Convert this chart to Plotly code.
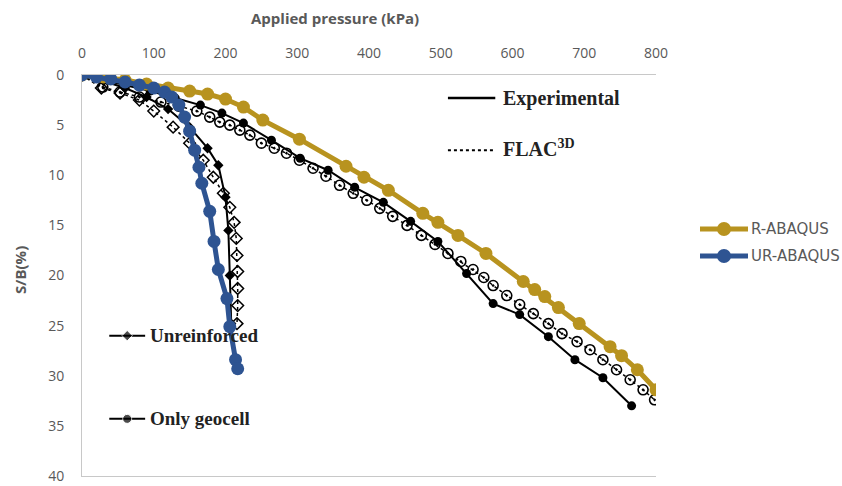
import plotly.graph_objects as go

# Applied pressure (kPa) vs. settlement ratio S/B (%)
r_abaqus_p = [0, 30, 60, 90, 120, 150, 175, 200, 225, 252, 303, 368, 393, 427, 475, 496, 524, 563,
              615, 631, 645, 664, 693, 736, 752, 774, 800]
r_abaqus_s = [0, 0.2, 0.5, 0.9, 1.3, 1.6, 1.9, 2.4, 3.2, 4.5, 6.4, 9.1, 10.2, 11.5, 13.8, 14.7, 16.0, 17.8,
              20.6, 21.4, 22.1, 23.2, 24.8, 27.1, 28.0, 29.4, 31.4]

ur_abaqus_p = [0, 20, 40, 60, 80, 100, 115, 125, 135, 143, 150, 157, 163, 167, 178, 184, 190, 202, 206, 214, 217]
ur_abaqus_s = [0, 0.2, 0.4, 0.7, 1.0, 1.3, 1.7, 2.2, 3.0, 4.2, 5.6, 7.5, 9.2, 10.8, 13.6, 16.6, 19.4, 22.3,
               25.1, 28.4, 29.3]

geocell_exp_p = [0, 30, 60, 95, 130, 165, 195, 225, 264, 304, 343, 380, 420, 458, 496, 536, 573, 610, 650,
                 687, 726, 766]
geocell_exp_s = [0, 0.5, 1.0, 1.6, 2.3, 3.0, 3.8, 4.8, 6.5, 8.3, 9.5, 11.2, 12.7, 14.6, 16.6, 19.8, 22.8, 23.9,
                 26.1, 28.4, 30.2, 33.0]

geocell_flac_p = [0, 29, 53, 80, 110, 135, 160, 178, 192, 206, 220, 234, 250, 268, 285, 303, 322, 340, 359,
                  378, 397, 415, 433, 453, 473, 492, 510, 528, 545, 560, 573, 592, 610, 629, 650, 669, 690,
                  708, 726, 745, 764, 782, 798]
geocell_flac_s = [0, 1.2, 1.7, 2.2, 2.7, 3.1, 3.6, 4.2, 4.7, 5.0, 5.5, 6.0, 6.8, 7.3, 7.8, 8.5, 9.3, 10.1, 11.0,
                  11.8, 12.5, 13.3, 14.1, 15.0, 16.0, 16.9, 17.8, 18.6, 19.4, 20.2, 21.0, 22.0, 22.9, 23.8,
                  24.8, 25.8, 26.6, 27.4, 28.4, 29.4, 30.4, 31.4, 32.4]

unreinf_exp_p = [0, 30, 60, 90, 120, 150, 175, 190, 200, 204, 206, 208]
unreinf_exp_s = [0, 0.6, 1.3, 2.2, 3.4, 5.2, 7.3, 9.0, 12.2, 15.5, 20.0, 24.8]

unreinf_flac_p = [0, 27, 53, 80, 100, 127, 150, 169, 183, 197, 206, 212, 215, 216, 217, 217, 217, 216]
unreinf_flac_s = [0, 1.3, 1.8, 2.5, 3.6, 5.2, 6.8, 8.5, 10.2, 11.8, 13.2, 14.7, 16.3, 18.0, 19.6, 21.3, 23.0, 24.8]

x_ticks = [0, 100, 200, 300, 400, 500, 600, 700, 800]
y_ticks = [0, 5, 10, 15, 20, 25, 30, 35, 40]

abaqus_names = ["R-ABAQUS", "UR-ABAQUS"]
case_names = ["Unreinforced", "Only geocell"]

GOLD = "#B8931F"
BLUE = "#2E5492"
GREY = "#595959"
INK = "#222222"
SERIF = "Liberation Serif, Times New Roman, serif"

# plot area in pixels: x 82..656, y 75..476
PX_L, PX_R, PX_T, PX_B = 82, 656, 75, 476


def paper_x(px):
    return (px - PX_L) / (PX_R - PX_L)


def paper_y(py):
    return (PX_B - py) / (PX_B - PX_T)


fig = go.Figure()

fig.add_trace(go.Scatter(
    x=unreinf_flac_p, y=unreinf_flac_s, mode="lines+markers", showlegend=False,
    line=dict(color="black", width=1.5, dash="dot"),
    marker=dict(symbol="diamond-open", size=9, color="black", line=dict(width=1.5))))
fig.add_trace(go.Scatter(
    x=unreinf_exp_p, y=unreinf_exp_s, mode="lines+markers", showlegend=False,
    line=dict(color="black", width=2),
    marker=dict(symbol="diamond", size=8, color="black")))
fig.add_trace(go.Scatter(
    x=geocell_flac_p, y=geocell_flac_s, mode="lines+markers", showlegend=False,
    line=dict(color="black", width=1.5, dash="dot"),
    marker=dict(symbol="circle-open-dot", size=10, color="black", line=dict(width=1.6))))
fig.add_trace(go.Scatter(
    x=geocell_exp_p, y=geocell_exp_s, mode="lines+markers", showlegend=False,
    line=dict(color="black", width=2),
    marker=dict(symbol="circle", size=9, color="black")))

# in-plot key for the two test cases
for name, symbol, size, sb in zip(case_names, ["diamond", "circle"], [8, 9], [26.0, 34.3]):
    fig.add_trace(go.Scatter(
        x=[38, 63, 88], y=[sb, sb, sb], mode="lines+markers", showlegend=False,
        line=dict(color="black", width=2),
        marker=dict(symbol=symbol, size=[0, size, 0], color="black")))
    fig.add_annotation(x=92, y=sb, text="<b>%s</b>" % name, showarrow=False, xanchor="left",
                       yanchor="middle", font=dict(family=SERIF, size=19, color=INK))

fig.add_trace(go.Scatter(
    x=r_abaqus_p, y=r_abaqus_s, mode="lines+markers", name=abaqus_names[0], showlegend=False,
    line=dict(color=GOLD, width=5), marker=dict(symbol="circle", size=13, color=GOLD)))
fig.add_trace(go.Scatter(
    x=ur_abaqus_p, y=ur_abaqus_s, mode="lines+markers", name=abaqus_names[1], showlegend=False,
    line=dict(color=BLUE, width=5), marker=dict(symbol="circle", size=13, color=BLUE)))

# key for the experimental / numerical line styles
fig.add_shape(type="line", x0=510, x1=576, y0=2.3, y1=2.3, line=dict(color="black", width=2.5))
fig.add_shape(type="line", x0=510, x1=576, y0=7.5, y1=7.5, line=dict(color="black", width=2, dash="dot"))
fig.add_annotation(x=584, y=2.3, text="<b>Experimental</b>", showarrow=False, xanchor="left",
                   font=dict(family=SERIF, size=20, color=INK))
fig.add_annotation(x=584, y=7.3, text="<b>FLAC<sup>3D</sup></b>", showarrow=False, xanchor="left",
                   font=dict(family=SERIF, size=20, color=INK))

# legend for the ABAQUS curves, right of the plot area
for name, color, py in zip(abaqus_names, [GOLD, BLUE], [229, 256]):
    fig.add_shape(type="line", xref="paper", yref="paper",
                  x0=paper_x(700), x1=paper_x(748), y0=paper_y(py), y1=paper_y(py),
                  line=dict(color=color, width=5))
    fig.add_shape(type="circle", xref="paper", yref="paper",
                  x0=paper_x(717), x1=paper_x(731), y0=paper_y(py + 7), y1=paper_y(py - 7),
                  fillcolor=color, line=dict(color=color, width=0))
    fig.add_annotation(x=paper_x(749), y=paper_y(py), xref="paper", yref="paper",
                       xanchor="left", yanchor="middle", text=name, showarrow=False,
                       font=dict(family="DejaVu Sans", size=15, color=GREY))

fig.add_annotation(x=paper_x(335), y=paper_y(18), xref="paper", yref="paper",
                   xanchor="center", yanchor="middle", text="<b>Applied pressure (kPa)</b>",
                   showarrow=False, font=dict(family="Open Sans", size=15, color=GREY))
fig.add_annotation(x=paper_x(20), y=paper_y(270), xref="paper", yref="paper",
                   xanchor="center", yanchor="middle", textangle=-90, text="<b>S/B(%)</b>",
                   showarrow=False, font=dict(family="Open Sans", size=15, color=GREY))

fig.update_layout(
    width=842, height=486,
    margin=dict(l=PX_L, r=842 - PX_R, t=PX_T, b=486 - PX_B),
    paper_bgcolor="white", plot_bgcolor="white",
    font=dict(family="Open Sans", size=14, color=GREY),
    showlegend=False,
    xaxis=dict(range=[0, 800], side="top", tickvals=x_ticks, showgrid=False, zeroline=False,
               showline=True, linecolor="#C8C8C8", linewidth=1, mirror=True, ticks="",
               automargin=False,
               ticklabelstandoff=10, tickfont=dict(family="Open Sans", size=14, color=GREY)),
    yaxis=dict(range=[40, 0], tickvals=y_ticks, showgrid=False, zeroline=False,
               showline=True, linecolor="#C8C8C8", linewidth=1, ticks="",
               automargin=False,
               ticklabelstandoff=14, tickfont=dict(family="Open Sans", size=14, color=GREY)),
)

fig.write_html("out.html")
